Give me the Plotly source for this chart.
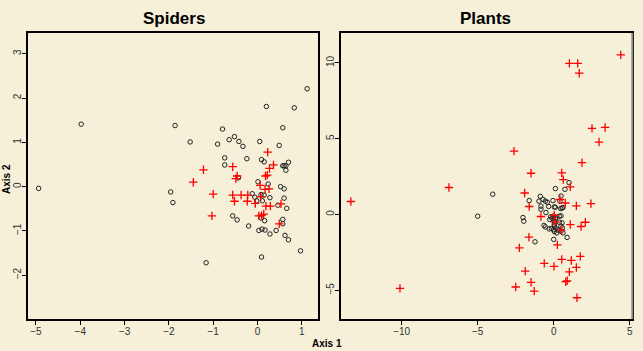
import plotly.graph_objects as go

# ---- Spiders panel data ----
sp_circ_x = [-4.94, -3.98, -1.86, -1.52, -0.79, -0.90, -0.64, -0.52, -0.42, -0.33, 0.05, 0.20, 0.57, 0.49, 0.83, 1.12,
             -0.74, -0.74, -0.24, 0.09, 0.15, 0.57, 0.60, 0.64, 0.70, 0.64, -0.43, 0.01, 0.24, 0.52, 0.60, -1.96, -1.91,
             -0.12, 0.08, 0.15, -0.06, 0.28, 0.60, -0.02, 0.11, 0.46, 0.66, -0.56, -0.46, 0.08, 0.16, 0.57, 0.57, -0.20,
             0.10, 0.03, 0.17, 0.42, 0.28, 0.62, 0.70, 0.97, 0.09, -1.16]
sp_circ_y = [-0.04, 1.41, 1.38, 1.01, 1.30, 0.96, 1.06, 1.13, 1.02, 0.91, 1.02, 1.81, 1.33, 0.93, 1.78, 2.21,
             0.65, 0.49, 0.63, 0.61, 0.56, 0.47, 0.47, 0.47, 0.55, 0.37, 0.20, 0.11, 0.06, 0.00, -0.05, -0.12, -0.36,
             -0.16, -0.18, -0.19, -0.24, -0.25, -0.26, -0.32, -0.32, -0.42, -0.49, -0.66, -0.75, -0.71, -0.77, -0.74,
             -0.84, -0.89, -0.96, -0.99, -0.98, -0.99, -1.07, -1.10, -1.20, -1.45, -1.59, -1.72]
sp_plus_x = [0.23, 0.36, 0.27, -1.22, -0.56, 0.22, 0.18, -0.46, -0.49, -1.45, 0.06, 0.26, 0.17, -1.00, -0.56, -0.37,
             -0.22, 0.07, -0.52, -0.23, -0.05, 0.19, 0.29, 0.53, -1.03, 0.03, 0.09, 0.14, 0.49]
sp_plus_y = [0.78, 0.49, 0.41, 0.38, 0.45, 0.26, 0.24, 0.24, 0.18, 0.10, 0.03, -0.05, -0.06, -0.17, -0.19, -0.19,
             -0.19, -0.23, -0.33, -0.33, -0.38, -0.44, -0.44, -0.39, -0.66, -0.66, -0.65, -0.62, -0.84]

# ---- Plants panel data ----
pl_circ_x = [-4.01, -5.00, -2.02, -1.97, -1.23, -1.61, 0.11, 0.74, 1.01, -0.88, -0.97, -0.70, -0.55, -0.42, -0.84,
             -0.84, -0.33, -0.05, 0.04, 0.11, 0.41, 0.48, 0.46, 0.55, 0.61, -0.51, -0.20, -0.10, 0.00, 0.10, 0.15,
             -0.26, 0.37, 0.48, 0.37, 0.55, -0.64, -0.55, -0.30, -0.15, 0.00, 0.15, 0.30, 0.04, 0.04, 0.04, 0.48,
             0.57, 0.48, 0.61, 0.00, 0.88, 0.04, 0.20]
pl_circ_y = [1.34, -0.11, -0.20, -0.44, -1.80, 0.92, 1.71, 1.66, 2.10, 1.20, 0.88, 0.99, 0.88, 0.81, 0.55, 0.35,
             0.53, 0.92, 0.50, 0.48, 0.88, 1.22, 0.39, 0.43, 0.46, 0.13, -0.15, -0.25, -0.10, -0.28, -0.18, -0.33,
             -0.11, -0.09, -0.51, -0.55, -0.72, -0.82, -0.95, -0.92, -1.00, -0.90, -1.03, -0.44, -0.64, -0.77, -0.77,
             -0.88, -1.10, -1.21, -1.64, -1.51, -1.12, -1.21]
pl_plus_x = [4.41, 1.03, 1.58, 1.68, 2.52, 3.38, 2.98, -2.61, 1.86, -1.49, 0.53, 0.63, 1.09, -1.91, -1.61, 0.76,
             1.49, 2.45, -0.84, 0.41, 0.04, 1.09, 2.08, 1.80, 0.48, -1.63, -2.26, 0.24, 0.53, 1.16, 1.75, -0.62,
             0.02, 1.49, 1.03, -1.87, -1.49, 0.79, 0.89, -2.50, -1.28, 1.53, -13.34, -6.89, -10.11, 0.09]
pl_plus_y = [10.53, 9.97, 9.97, 9.32, 5.68, 5.74, 4.78, 4.18, 3.42, 2.72, 2.74, 2.30, 1.82, 1.42, 0.53, 0.76,
             0.57, 0.72, -0.13, 0.99, -0.05, -0.66, -0.51, -0.79, -1.03, -1.49, -2.20, -2.00, -2.96, -3.03, -2.76,
             -3.22, -3.42, -3.49, -3.78, -3.73, -4.47, -4.43, -4.37, -4.78, -5.05, -5.49, 0.86, 1.78, -4.87, -0.49]

titles = ["Spiders", "Plants"]
sp_xticks = [-5, -4, -3, -2, -1, 0, 1]
sp_yticks = [-2, -1, 0, 1, 2, 3]
pl_xticks = [-10, -5, 0, 5]
pl_yticks = [-5, 0, 5, 10]

BG = "#F5F0D7"
FONT = "Liberation Sans, Arial"
circ_marker = dict(symbol="circle-open", size=4.5, color="#222222", line=dict(width=1, color="#222222"))
plus_marker = dict(symbol="cross-thin-open", size=6, color="#FF0000", line=dict(width=1.3, color="#FF0000"))

fig = go.Figure()
fig.add_trace(go.Scatter(x=sp_circ_x, y=sp_circ_y, mode="markers", marker=circ_marker, xaxis="x", yaxis="y"))
fig.add_trace(go.Scatter(x=sp_plus_x, y=sp_plus_y, mode="markers", marker=plus_marker, xaxis="x", yaxis="y"))
fig.add_trace(go.Scatter(x=pl_circ_x, y=pl_circ_y, mode="markers", marker=circ_marker, xaxis="x2", yaxis="y2"))
fig.add_trace(go.Scatter(x=pl_plus_x, y=pl_plus_y, mode="markers", marker=plus_marker, xaxis="x2", yaxis="y2"))

W, H = 643, 351
ydom = [(H - 319) / H, (H - 33) / H]

axis_common = dict(showgrid=False, zeroline=False, showline=True, linecolor="black", linewidth=1.5,
                   mirror=True, ticks="outside", ticklen=4, tickcolor="black", tickwidth=1,
                   tickfont=dict(family=FONT, size=10, color="#333333"))

fig.update_layout(
    width=W, height=H,
    margin=dict(l=0, r=0, t=0, b=0),
    paper_bgcolor=BG, plot_bgcolor=BG,
    showlegend=False,
    xaxis=dict(domain=[28 / W, 318 / W], range=[-5.18, 1.365], tickvals=sp_xticks, anchor="y",
               ticklabelstandoff=-2, **axis_common),
    yaxis=dict(domain=ydom, range=[-2.99, 3.47], tickvals=sp_yticks, tickangle=-90, anchor="x",
               ticklabelstandoff=-3, **axis_common),
    xaxis2=dict(domain=[340.7 / W, 632.3 / W], range=[-14.01, 5.17], tickvals=pl_xticks, anchor="y2",
                ticklabelstandoff=-2, **axis_common),
    yaxis2=dict(domain=ydom, range=[-6.89, 11.97], tickvals=pl_yticks, tickangle=-90, anchor="x2",
                ticklabelstandoff=-3, **axis_common),
    annotations=[
        dict(text="<b>%s</b>" % titles[0], x=174 / W, y=1 - 19 / H, xref="paper", yref="paper",
             xanchor="center", yanchor="middle",
             showarrow=False, font=dict(family=FONT, size=17, color="black")),
        dict(text="<b>%s</b>" % titles[1], x=485 / W, y=1 - 19 / H, xref="paper", yref="paper",
             xanchor="center", yanchor="middle",
             showarrow=False, font=dict(family=FONT, size=17, color="black")),
        dict(text="<b>Axis 1</b>", x=327 / W, y=1 - 343 / H, xref="paper", yref="paper",
             xanchor="center", yanchor="middle",
             showarrow=False, font=dict(family=FONT, size=10, color="black")),
        dict(text="<b>Axis 2</b>", x=6 / W, y=1 - 179 / H, xref="paper", yref="paper", textangle=-90,
             xanchor="center", yanchor="middle",
             showarrow=False, font=dict(family=FONT, size=10, color="black")),
    ],
    shapes=[
        dict(type="line", xref="x2 domain", yref="y2 domain", x0=1, x1=1, y0=0, y1=1,
             line=dict(color="#8a8a80", width=2)),
    ],
)

fig.write_html("out.html")
